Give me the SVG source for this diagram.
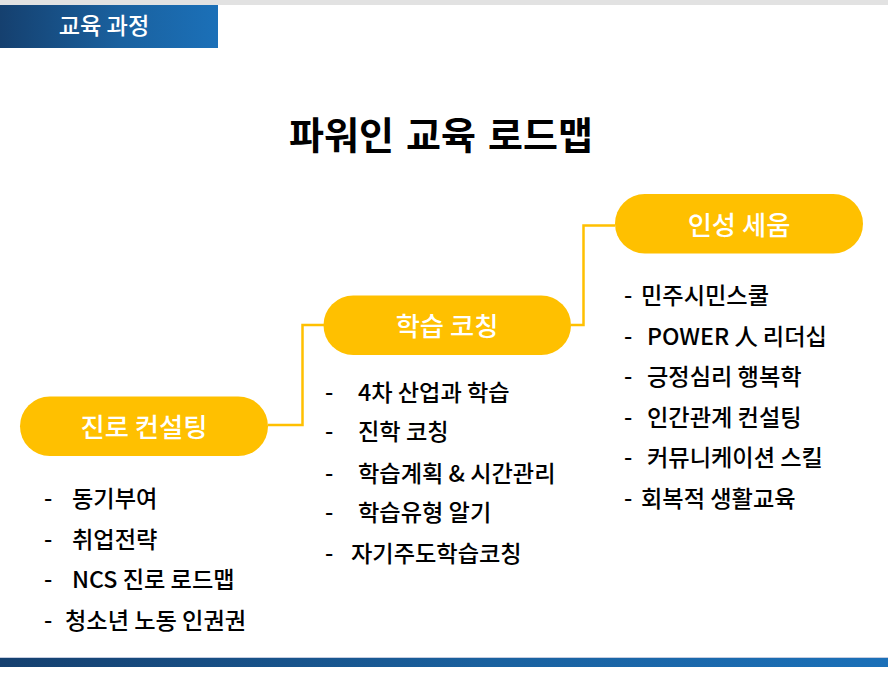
<svg xmlns="http://www.w3.org/2000/svg" width="888" height="677" viewBox="0 0 888 677">
<style>
text{font-family:"Noto Sans CJK KR","Noto Sans",sans-serif}
.p{fill:#ffc000}
.pl{fill:#fff;font-size:26.300px;font-weight:500;text-anchor:middle}
.i{fill:#000;font-size:23.200px;font-weight:500}
.c{fill:none;stroke:#ffc000;stroke-width:2.5}
</style>
<defs>
<linearGradient id="g" x1="0" x2="1" y1="0" y2="0"><stop offset="0" stop-color="#15406f"/><stop offset=".55" stop-color="#1a619f"/><stop offset="1" stop-color="#1b70b8"/></linearGradient>
</defs>
<rect width="888" height="677" fill="#fff"/>
<rect width="888" height="5" fill="#e2e2e2"/>
<g id="header"><rect x="0" y="5" width="218" height="43" fill="url(#g)"/>
<text x="104" y="34" fill="#fff" font-size="23.200" font-weight="500" text-anchor="middle">교육 과정</text></g>
<rect x="0" y="657" width="888" height="1.500" fill="#c5cde0"/>
<rect x="0" y="658" width="888" height="9" fill="url(#g)"/>
<text id="title" x="441" y="149" font-size="38" font-weight="700" word-spacing="3.500" text-anchor="middle">파워인 교육 로드맵</text>
<g id="connectors">
<path class="c" d="M268 425H302.500V325H324"/>
<path class="c" d="M571 325H583.500V225.500H615"/>
</g>
<g id="node1"><rect class="p" x="20" y="396.500" width="248" height="59.500" rx="29.750"/><text class="pl" x="144" y="437">진로 컨설팅</text></g>
<g id="node2"><rect class="p" x="323.500" y="295.500" width="247.500" height="59.500" rx="29.750"/><text class="pl" x="447" y="336">학습 코칭</text></g>
<g id="node3"><rect class="p" x="615" y="194" width="248" height="59.500" rx="29.750"/><text class="pl" x="739" y="235">인성 세움</text></g>
<g id="list1">
<text class="i" x="44" y="507">-</text><text class="i" x="72" y="507">동기부여</text>
<text class="i" x="44" y="548">-</text><text class="i" x="72" y="548">취업전략</text>
<text class="i" x="44" y="588">-</text><text class="i" x="72" y="588">NCS 진로 로드맵</text>
<text class="i" x="44" y="629">-</text><text class="i" x="65" y="629">청소년 노동 인권권</text>
</g>
<g id="list2">
<text class="i" x="325" y="401">-</text><text class="i" x="358" y="401">4차 산업과 학습</text>
<text class="i" x="325" y="440">-</text><text class="i" x="358" y="440">진학 코칭</text>
<text class="i" x="325" y="482">-</text><text class="i" x="358" y="482">학습계획 &amp; 시간관리</text>
<text class="i" x="325" y="521">-</text><text class="i" x="358" y="521">학습유형 알기</text>
<text class="i" x="325" y="562">-</text><text class="i" x="351" y="562">자기주도학습코칭</text>
</g>
<g id="list3">
<text class="i" x="624" y="304">-</text><text class="i" x="641" y="304">민주시민스쿨</text>
<text class="i" x="624" y="345">-</text><text class="i" x="647" y="345">POWER 人 리더십</text>
<text class="i" x="624" y="385">-</text><text class="i" x="647" y="385">긍정심리 행복학</text>
<text class="i" x="624" y="426">-</text><text class="i" x="647" y="426">인간관계 컨설팅</text>
<text class="i" x="624" y="466">-</text><text class="i" x="647" y="466">커뮤니케이션 스킬</text>
<text class="i" x="624" y="507">-</text><text class="i" x="641" y="507">회복적 생활교육</text>
</g>
</svg>
